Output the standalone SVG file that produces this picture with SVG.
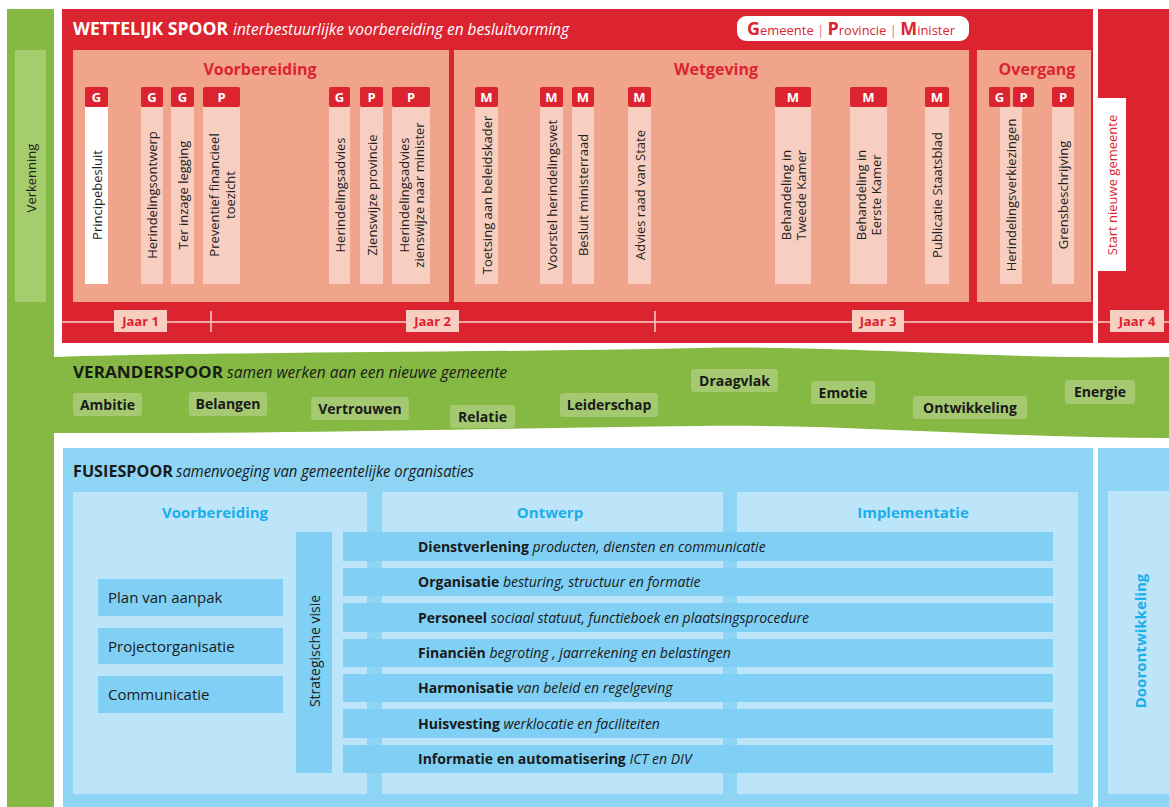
<svg xmlns="http://www.w3.org/2000/svg" width="1169" height="807" viewBox="0 0 1169 807">
<style>
text{font-family:"Open Sans","Noto Sans",sans-serif}
.red{fill:#dc2330}
.panel{fill:#f0a48b}
.col{fill:#f7cec0}
.bt{font-size:13px;font-weight:bold;fill:#fff;text-anchor:middle}
.vt{font-size:13px;fill:#222;text-anchor:middle;dominant-baseline:central}
.ptitle{font-size:16px;font-weight:bold;fill:#dc2330;text-anchor:middle}
.jaar{fill:#f7cec0}
.jt{font-size:13px;font-weight:bold;fill:#dc2330;text-anchor:middle}
.hb{font-weight:bold;fill:#fff;font-size:17px}
.hi{font-style:italic;fill:#fff;font-size:17px}
.db{font-weight:bold;fill:#1a1a1a;font-size:16px}
.di{font-style:italic;fill:#1a1a1a;font-size:16px}
.pill{fill:#a4c971}
.pt{font-size:14px;font-weight:bold;fill:#1a1a1a;text-anchor:middle}
.bpanel{fill:#bde5f9}
.bbox{fill:#80cff4}
.btitle{font-size:15px;font-weight:bold;fill:#1aaeea;text-anchor:middle}
.bx{font-size:15px;fill:#1a1a1a}
.rt{font-size:14px;fill:#1a1a1a}
.rb{font-weight:bold}
.ri{font-style:italic}
.lg{fill:#dc2330}
</style>

<!-- Verkenning -->
<g id="verkenning">
<rect x="7" y="9" width="47" height="798" fill="#86b943"/>
<rect x="15" y="50" width="31" height="252" fill="#a6cd6d"/>
<text transform="translate(31,178) rotate(-90)" class="vt">Verkenning</text>
</g>

<!-- Wettelijk spoor -->
<g id="wettelijk-spoor">
<rect x="62" y="9" width="1031" height="334" class="red"/>
<rect x="1098" y="9" width="71" height="334" class="red"/>
<text x="73" y="35" class="hb" textLength="155" lengthAdjust="spacingAndGlyphs">WETTELIJK SPOOR</text>
<text x="233" y="35" class="hi" textLength="336" lengthAdjust="spacingAndGlyphs">interbestuurlijke voorbereiding en besluitvorming</text>
</g>

<g id="legenda">
<rect x="737" y="16" width="232" height="25" rx="9" fill="#fff"/>
<text x="747" y="35" class="lg" textLength="208" lengthAdjust="spacingAndGlyphs"><tspan font-size="18" font-weight="bold">G</tspan><tspan font-size="13">emeente</tspan><tspan font-size="13" fill="#e8707a"> | </tspan><tspan font-size="18" font-weight="bold">P</tspan><tspan font-size="13">rovincie</tspan><tspan font-size="13" fill="#e8707a"> | </tspan><tspan font-size="18" font-weight="bold">M</tspan><tspan font-size="13">inister</tspan></text>
</g>

<g id="fase-voorbereiding">
<rect x="73" y="50" width="376" height="252" class="panel"/>
<text x="260" y="75" class="ptitle">Voorbereiding</text>
</g>
<g id="fase-wetgeving">
<rect x="454" y="50" width="515" height="252" class="panel"/>
<text x="716" y="75" class="ptitle">Wetgeving</text>
</g>
<g id="fase-overgang">
<rect x="977" y="50" width="114" height="252" class="panel"/>
<text x="1037" y="75" class="ptitle">Overgang</text>
</g>

<!-- stappen -->
<g id="s-principebesluit">
<rect x="85" y="107" width="23" height="177" fill="#fff"/>
<rect x="85" y="87" width="23" height="20" rx="2" class="red"/>
<text x="96.5" y="102" class="bt">G</text>
<text transform="translate(96.5,195) rotate(-90)" class="vt">Principebesluit</text>
</g>
<g id="s-herindelingsontwerp">
<rect x="141" y="107" width="22" height="177" class="col"/>
<rect x="141" y="87" width="22" height="20" rx="2" class="red"/>
<text x="152" y="102" class="bt">G</text>
<text transform="translate(152,195) rotate(-90)" class="vt">Herindelingsontwerp</text>
</g>
<g id="s-ter-inzage">
<rect x="171" y="107" width="23" height="177" class="col"/>
<rect x="171" y="87" width="23" height="20" rx="2" class="red"/>
<text x="182.5" y="102" class="bt">G</text>
<text transform="translate(182.5,195) rotate(-90)" class="vt">Ter inzage legging</text>
</g>
<g id="s-preventief">
<rect x="203" y="107" width="37" height="177" class="col"/>
<rect x="203" y="87" width="37" height="20" rx="2" class="red"/>
<text x="221.5" y="102" class="bt">P</text>
<text transform="translate(221.5,195) rotate(-90)" class="vt"><tspan x="0" y="-8">Preventief financieel</tspan><tspan x="0" y="8">toezicht</tspan></text>
</g>
<g id="s-herindelingsadvies">
<rect x="329" y="107" width="21" height="177" class="col"/>
<rect x="329" y="87" width="21" height="20" rx="2" class="red"/>
<text x="339.5" y="102" class="bt">G</text>
<text transform="translate(339.5,195) rotate(-90)" class="vt">Herindelingsadvies</text>
</g>
<g id="s-zienswijze-provincie">
<rect x="360" y="107" width="23" height="177" class="col"/>
<rect x="360" y="87" width="23" height="20" rx="2" class="red"/>
<text x="371.5" y="102" class="bt">P</text>
<text transform="translate(371.5,195) rotate(-90)" class="vt">Zienswijze provincie</text>
</g>
<g id="s-advies-minister">
<rect x="392" y="107" width="38" height="177" class="col"/>
<rect x="392" y="87" width="38" height="20" rx="2" class="red"/>
<text x="411" y="102" class="bt">P</text>
<text transform="translate(411,195) rotate(-90)" class="vt"><tspan x="0" y="-7.5">Herindelingsadvies</tspan><tspan x="0" y="7.5">zienswijze naar minister</tspan></text>
</g>
<g id="s-toetsing">
<rect x="475" y="107" width="23" height="177" class="col"/>
<rect x="475" y="87" width="23" height="20" rx="2" class="red"/>
<text x="486.5" y="102" class="bt">M</text>
<text transform="translate(486.5,195) rotate(-90)" class="vt">Toetsing aan beleidskader</text>
</g>
<g id="s-voorstel">
<rect x="540" y="107" width="23" height="177" class="col"/>
<rect x="540" y="87" width="23" height="20" rx="2" class="red"/>
<text x="551.5" y="102" class="bt">M</text>
<text transform="translate(551.5,195) rotate(-90)" class="vt">Voorstel herindelingswet</text>
</g>
<g id="s-ministerraad">
<rect x="572" y="107" width="22" height="177" class="col"/>
<rect x="572" y="87" width="22" height="20" rx="2" class="red"/>
<text x="583" y="102" class="bt">M</text>
<text transform="translate(583,195) rotate(-90)" class="vt">Besluit ministerraad</text>
</g>
<g id="s-raad-van-state">
<rect x="628" y="107" width="23" height="177" class="col"/>
<rect x="628" y="87" width="23" height="20" rx="2" class="red"/>
<text x="639.5" y="102" class="bt">M</text>
<text transform="translate(639.5,195) rotate(-90)" class="vt">Advies raad van State</text>
</g>
<g id="s-tweede-kamer">
<rect x="775" y="107" width="36" height="177" class="col"/>
<rect x="775" y="87" width="36" height="20" rx="2" class="red"/>
<text x="793" y="102" class="bt">M</text>
<text transform="translate(793,195) rotate(-90)" class="vt"><tspan x="0" y="-7.5">Behandeling in</tspan><tspan x="0" y="7.5">Tweede Kamer</tspan></text>
</g>
<g id="s-eerste-kamer">
<rect x="850" y="107" width="37" height="177" class="col"/>
<rect x="850" y="87" width="37" height="20" rx="2" class="red"/>
<text x="868.5" y="102" class="bt">M</text>
<text transform="translate(868.5,195) rotate(-90)" class="vt"><tspan x="0" y="-7.5">Behandeling in</tspan><tspan x="0" y="7.5">Eerste Kamer</tspan></text>
</g>
<g id="s-staatsblad">
<rect x="925" y="107" width="24" height="177" class="col"/>
<rect x="925" y="87" width="24" height="20" rx="2" class="red"/>
<text x="937" y="102" class="bt">M</text>
<text transform="translate(937,195) rotate(-90)" class="vt">Publicatie Staatsblad</text>
</g>
<g id="s-verkiezingen">
<rect x="1000" y="107" width="22" height="177" class="col"/>
<rect x="989" y="87" width="21" height="20" rx="2" class="red"/>
<rect x="1013" y="87" width="21" height="20" rx="2" class="red"/>
<text x="999.5" y="102" class="bt">G</text>
<text x="1023.5" y="102" class="bt">P</text>
<text transform="translate(1011,195) rotate(-90)" class="vt">Herindelingsverkiezingen</text>
</g>
<g id="s-grens">
<rect x="1052" y="107" width="22" height="177" class="col"/>
<rect x="1052" y="87" width="22" height="20" rx="2" class="red"/>
<text x="1063" y="102" class="bt">P</text>
<text transform="translate(1063,195) rotate(-90)" class="vt">Grensbeschrijving</text>
</g>
<g id="s-start">
<rect x="1098" y="98" width="28" height="173" fill="#fff"/>
<text transform="translate(1112,185) rotate(-90)" class="vt" style="fill:#dc2330">Start nieuwe gemeente</text>
</g>

<!-- tijdlijn -->
<g id="tijdlijn">
<line x1="62" y1="322" x2="1169" y2="322" stroke="#f7d3c8" stroke-width="1.5"/>
<line x1="211" y1="311" x2="211" y2="332" stroke="#f7d3c8" stroke-width="1.5"/>
<line x1="655" y1="311" x2="655" y2="332" stroke="#f7d3c8" stroke-width="1.5"/>
<rect x="114" y="310" width="53" height="22" class="jaar"/>
<text x="140.5" y="326" class="jt">Jaar 1</text>
<rect x="406" y="310" width="53" height="22" class="jaar"/>
<text x="432.5" y="326" class="jt">Jaar 2</text>
<rect x="852" y="310" width="52" height="22" class="jaar"/>
<text x="878" y="326" class="jt">Jaar 3</text>
<rect x="1110" y="310" width="54" height="22" class="jaar"/>
<text x="1137" y="326" class="jt">Jaar 4</text>
</g>

<!-- Veranderspoor -->
<g id="veranderspoor">
<path d="M54,357 C200,352 450,353 700,348 C850,345 1000,360 1169,357 L1169,438 C1000,438 850,424 700,426 C500,428 300,434 54,433 Z" fill="#86b943"/>
<text x="73" y="378" class="db" textLength="150" lengthAdjust="spacingAndGlyphs">VERANDERSPOOR</text>
<text x="227" y="378" class="di" textLength="280" lengthAdjust="spacingAndGlyphs">samen werken aan een nieuwe gemeente</text>
</g>
<g id="p-ambitie"><rect x="73" y="393" width="69" height="23" rx="3" class="pill"/><text x="107.5" y="410" class="pt">Ambitie</text></g>
<g id="p-belangen"><rect x="189" y="392" width="78" height="24" rx="3" class="pill"/><text x="228" y="409" class="pt">Belangen</text></g>
<g id="p-vertrouwen"><rect x="311" y="397" width="98" height="23" rx="3" class="pill"/><text x="360" y="414" class="pt">Vertrouwen</text></g>
<g id="p-relatie"><rect x="450" y="405" width="65" height="23" rx="3" class="pill"/><text x="482.5" y="422" class="pt">Relatie</text></g>
<g id="p-leiderschap"><rect x="560" y="393" width="98" height="24" rx="3" class="pill"/><text x="609" y="410" class="pt">Leiderschap</text></g>
<g id="p-draagvlak"><rect x="691" y="369" width="87" height="23" rx="3" class="pill"/><text x="734.5" y="386" class="pt">Draagvlak</text></g>
<g id="p-emotie"><rect x="811" y="381" width="64" height="23" rx="3" class="pill"/><text x="843" y="398" class="pt">Emotie</text></g>
<g id="p-ontwikkeling"><rect x="913" y="396" width="114" height="23" rx="3" class="pill"/><text x="970" y="413" class="pt">Ontwikkeling</text></g>
<g id="p-energie"><rect x="1065" y="380" width="70" height="24" rx="3" class="pill"/><text x="1100" y="397" class="pt">Energie</text></g>

<!-- Fusiespoor -->
<g id="fusiespoor">
<rect x="63" y="448" width="1030" height="359" fill="#8dd4f5"/>
<rect x="1098" y="448" width="71" height="359" fill="#8dd4f5"/>
<text x="73" y="477" class="db" textLength="100" lengthAdjust="spacingAndGlyphs">FUSIESPOOR</text>
<text x="176" y="477" class="di" textLength="298" lengthAdjust="spacingAndGlyphs">samenvoeging van gemeentelijke organisaties</text>
</g>
<g id="f-voorbereiding">
<rect x="73" y="492" width="294" height="302" class="bpanel"/>
<text x="215" y="518" class="btitle">Voorbereiding</text>
</g>
<g id="f-ontwerp">
<rect x="382" y="492" width="341" height="302" class="bpanel"/>
<text x="550" y="518" class="btitle">Ontwerp</text>
</g>
<g id="f-implementatie">
<rect x="737" y="492" width="341" height="302" class="bpanel"/>
<text x="913" y="518" class="btitle">Implementatie</text>
</g>
<g id="f-doorontwikkeling">
<rect x="1108" y="491" width="61" height="303" class="bpanel"/>
<text transform="translate(1140,641) rotate(-90)" class="btitle" dominant-baseline="central">Doorontwikkeling</text>
</g>
<g id="b-plan"><rect x="98" y="579" width="185" height="37" class="bbox"/><text x="108" y="603" class="bx">Plan van aanpak</text></g>
<g id="b-project"><rect x="98" y="628" width="185" height="36" class="bbox"/><text x="108" y="652" class="bx">Projectorganisatie</text></g>
<g id="b-communicatie"><rect x="98" y="676" width="185" height="37" class="bbox"/><text x="108" y="700" class="bx">Communicatie</text></g>
<g id="b-visie"><rect x="296" y="532" width="36" height="241" class="bbox"/><text transform="translate(314,651) rotate(-90)" class="vt" style="font-size:14px">Strategische visie</text></g>

<g id="r-dienstverlening"><rect x="343" y="532" width="710" height="29" class="bbox"/><text x="418" y="552" class="rt"><tspan class="rb">Dienstverlening</tspan> <tspan class="ri">producten, diensten en communicatie</tspan></text></g>
<g id="r-organisatie"><rect x="343" y="568" width="710" height="28" class="bbox"/><text x="418" y="587" class="rt"><tspan class="rb">Organisatie</tspan> <tspan class="ri">besturing, structuur en formatie</tspan></text></g>
<g id="r-personeel"><rect x="343" y="603" width="710" height="29" class="bbox"/><text x="418" y="623" class="rt"><tspan class="rb">Personeel</tspan> <tspan class="ri">sociaal statuut, functieboek en plaatsingsprocedure</tspan></text></g>
<g id="r-financien"><rect x="343" y="639" width="710" height="28" class="bbox"/><text x="418" y="658" class="rt"><tspan class="rb">Financiën</tspan> <tspan class="ri">begroting , jaarrekening en belastingen</tspan></text></g>
<g id="r-harmonisatie"><rect x="343" y="674" width="710" height="28" class="bbox"/><text x="418" y="693" class="rt"><tspan class="rb">Harmonisatie</tspan> <tspan class="ri">van beleid en regelgeving</tspan></text></g>
<g id="r-huisvesting"><rect x="343" y="709" width="710" height="29" class="bbox"/><text x="418" y="729" class="rt"><tspan class="rb">Huisvesting</tspan> <tspan class="ri">werklocatie en faciliteiten</tspan></text></g>
<g id="r-informatie"><rect x="343" y="745" width="710" height="28" class="bbox"/><text x="418" y="764" class="rt"><tspan class="rb">Informatie en automatisering</tspan> <tspan class="ri">ICT en DIV</tspan></text></g>

<g id="connectors"></g>
</svg>
